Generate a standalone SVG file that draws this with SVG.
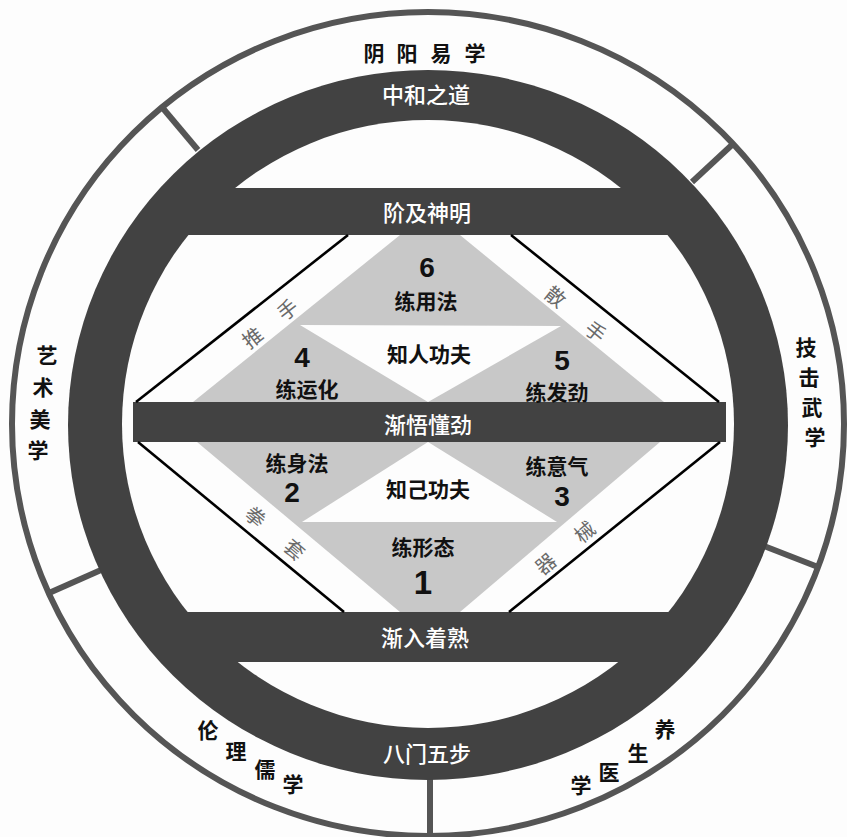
<svg xmlns="http://www.w3.org/2000/svg" width="847" height="837" viewBox="0 0 847 837">
<style>
.cn{font-family:"Noto Sans CJK SC","Noto Sans",sans-serif;font-weight:700;text-anchor:middle;dominant-baseline:central}
.outer{font-size:21px;fill:#111}
.ring{font-size:22px;fill:#fff;font-weight:500}
.lab{font-size:21px;fill:#111}
.strip{font-size:20px;fill:#6a6a6a;font-weight:400}
.num{font-family:"Liberation Sans","DejaVu Sans",sans-serif;font-size:28px;font-weight:700;fill:#111;text-anchor:middle;dominant-baseline:central}
.sep{stroke:#555;stroke-width:6;fill:none}
.edge{stroke:#000;stroke-width:2.6;fill:none}
.dark{fill:#424242}
.gray{fill:#c8c8c8}
</style>
<defs>
<clipPath id="inner"><ellipse cx="428" cy="424" rx="306" ry="304"/></clipPath>
</defs>
<rect width="847" height="837" fill="#fdfdfd"/>

<g id="outer-band">
<ellipse cx="428" cy="424" rx="416" ry="412" class="sep"/>
<line x1="198" y1="150" x2="161" y2="106" class="sep"/>
<line x1="692" y1="182" x2="734" y2="143" class="sep"/>
<line x1="764" y1="546" x2="818" y2="567" class="sep"/>
<line x1="430" y1="770" x2="430" y2="840" class="sep"/>
<line x1="101" y1="570" x2="49" y2="593" class="sep"/>
</g>

<g id="dark-ring">
<ellipse cx="428" cy="425" rx="360" ry="355" class="dark"/>
<g clip-path="url(#inner)">
<rect x="0" y="0" width="847" height="188" fill="#fdfdfd"/>
<rect x="0" y="235" width="847" height="377" fill="#fdfdfd"/>
<rect x="0" y="662" width="847" height="200" fill="#fdfdfd"/>
</g>
<rect x="133" y="402" width="593" height="40" class="dark"/>
</g>

<g id="upper-gray">
<polygon points="400,235 460,235 664,402 193,402" class="gray"/>
<polygon points="300,325 561,326 428,402" fill="#fdfdfd"/>
</g>
<g id="lower-gray">
<polygon points="197,442 660,442 460,612 400,612" class="gray"/>
<polygon points="428,442 557,522 302,522" fill="#fdfdfd"/>
</g>

<g id="connectors">
<line x1="136" y1="402" x2="348" y2="235" class="edge"/>
<line x1="511" y1="235" x2="719" y2="402" class="edge"/>
<line x1="138" y1="442" x2="344" y2="612" class="edge"/>
<line x1="720" y1="442" x2="509" y2="612" class="edge"/>
</g>

<g id="yinyang"><text class="cn outer" x="374" y="52">阴</text><text class="cn outer" x="407" y="52">阳</text><text class="cn outer" x="441" y="52">易</text><text class="cn outer" x="475" y="52">学</text></g>
<g id="yishu"><text class="cn outer" x="47" y="354">艺</text><text class="cn outer" x="43" y="386">术</text><text class="cn outer" x="40" y="418">美</text><text class="cn outer" x="38" y="449">学</text></g>
<g id="jiji"><text class="cn outer" x="806" y="346">技</text><text class="cn outer" x="809" y="376">击</text><text class="cn outer" x="812" y="406">武</text><text class="cn outer" x="815" y="436">学</text></g>
<g id="lunli"><text class="cn outer" x="208" y="729">伦</text><text class="cn outer" x="236" y="750">理</text><text class="cn outer" x="265" y="768">儒</text><text class="cn outer" x="293" y="783">学</text></g>
<g id="yangsheng"><text class="cn outer" x="665" y="728">养</text><text class="cn outer" x="638" y="752">生</text><text class="cn outer" x="609" y="771">医</text><text class="cn outer" x="581" y="784">学</text></g>

<g id="zhonghe"><text class="cn ring" x="426" y="93">中和之道</text></g>
<g id="jieji"><text class="cn ring" x="427" y="211">阶及神明</text></g>
<g id="jianwu"><text class="cn ring" x="428" y="423">渐悟懂劲</text></g>
<g id="jianru"><text class="cn ring" x="425" y="636">渐入着熟</text></g>
<g id="bamen"><text class="cn ring" x="427" y="752">八门五步</text></g>

<g id="n6"><text class="num" x="427" y="267">6</text><text class="cn lab" x="426" y="300">练用法</text></g>
<g id="zhiren"><text class="cn lab" x="429" y="353">知人功夫</text></g>
<g id="n4"><text class="num" x="302" y="357">4</text><text class="cn lab" x="307" y="388">练运化</text></g>
<g id="n5"><text class="num" x="562" y="360">5</text><text class="cn lab" x="557" y="391">练发劲</text></g>
<g id="n2"><text class="cn lab" x="297" y="462">练身法</text><text class="num" x="292" y="492">2</text></g>
<g id="zhiji"><text class="cn lab" x="428" y="488">知己功夫</text></g>
<g id="n3"><text class="cn lab" x="557" y="465">练意气</text><text class="num" x="562" y="496">3</text></g>
<g id="n1"><text class="cn lab" x="423" y="546">练形态</text><text class="num" x="423" y="582" style="font-size:33px">1</text></g>

<g id="strip-labels">
<text class="cn strip" x="252" y="337" transform="rotate(-38 252 337)">推</text>
<text class="cn strip" x="287" y="309" transform="rotate(-38 287 309)">手</text>
<text class="cn strip" x="556" y="296" transform="rotate(39 556 296)">散</text>
<text class="cn strip" x="596" y="331" transform="rotate(39 596 331)">手</text>
<text class="cn strip" x="256" y="516" transform="rotate(40 256 516)">拳</text>
<text class="cn strip" x="295" y="549" transform="rotate(40 295 549)">套</text>
<text class="cn strip" x="545" y="563" transform="rotate(-40 545 563)">器</text>
<text class="cn strip" x="584" y="531" transform="rotate(-40 584 531)">械</text>
</g>
</svg>
